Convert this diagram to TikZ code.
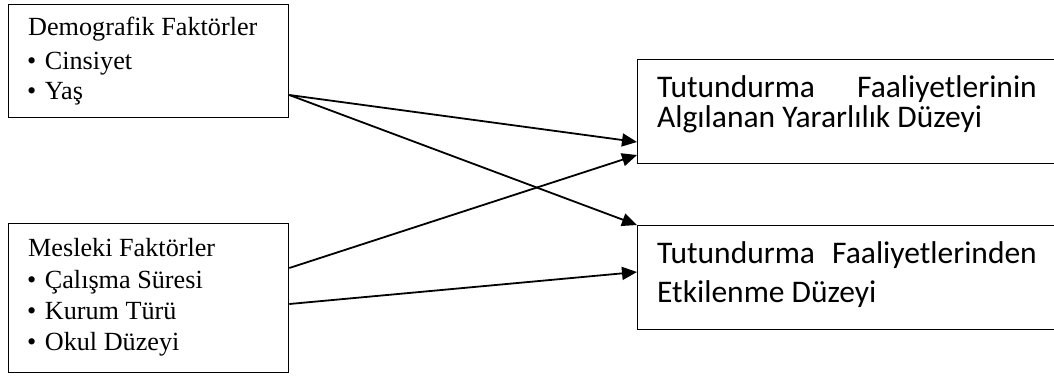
\documentclass[tikz,border=0pt]{standalone}
\usepackage{fontspec}
\setmainfont{Liberation Serif}
\newfontfamily\calibri{Carlito}
\usetikzlibrary{arrows.meta}
\newcommand{\itemdot}{•\hspace{8.5pt}}
\begin{document}
\begin{tikzpicture}[x=1pt,y=-1pt,
  box/.style={draw,line width=1.3pt,anchor=north west,inner sep=0pt,minimum height=#1},
  serif/.style={anchor=base west,inner sep=0pt,font=\fontsize{26.2pt}{31pt}\selectfont},
  sans/.style={anchor=base west,inner sep=0pt,font=\calibri\fontsize{31.5pt}{36pt}\selectfont},
  link/.style={line width=1.8pt,-{Triangle[length=15pt,width=13pt]}}]
\clip (0,0) rectangle (1054,385);
\fill[white] (0,0) rectangle (1054,385);

% factor boxes on the left
\node[box=113pt,minimum width=280pt] (demo) at (8,4) {};
\node[box=149pt,minimum width=280pt] (mesl) at (8,223) {};
% outcome boxes on the right (running past the edge)
\node[box=104pt,minimum width=500pt] (algi) at (637,59) {};
\node[box=104pt,minimum width=500pt] (etki) at (637,225) {};

% texts of the factor boxes
\node[serif] (d0) at (28,36) {Demografik Faktörler};
\node[serif] (d1) at (27,70) {\itemdot Cinsiyet};
\node[serif] (d2) at (27,100) {\itemdot Yaş};
\node[serif] (m0) at (28,256) {Mesleki Faktörler};
\node[serif] (m1) at (27,288) {\itemdot Çalışma Süresi};
\node[serif] (m2) at (27,319) {\itemdot Kurum Türü};
\node[serif] (m3) at (27,350) {\itemdot Okul Düzeyi};

% texts of the outcome boxes
\node[sans] (a1) at (657,98) {Tutundurma};
\node[sans,anchor=base east] (a2) at (1037,98) {Faaliyetlerinin};
\node[sans] (a3) at (657,128) {Algılanan Yararlılık Düzeyi};
\node[sans] (e1) at (657,263) {Tutundurma};
\node[sans,anchor=base east] (e2) at (1037,263) {Faaliyetlerinden};
\node[sans] (e3) at (657,302) {Etkilenme Düzeyi};

% relations
\draw[link] ([yshift=-91pt]demo.north east) -- ([yshift=-83pt]algi.north west);
\draw[link] ([yshift=-91pt]demo.north east) -- (etki.north west);
\draw[link] ([yshift=-45pt]mesl.north east) -- ([yshift=-96pt]algi.north west);
\draw[link] ([yshift=-81pt]mesl.north east) -- ([yshift=-47pt]etki.north west);
\end{tikzpicture}
\end{document}
